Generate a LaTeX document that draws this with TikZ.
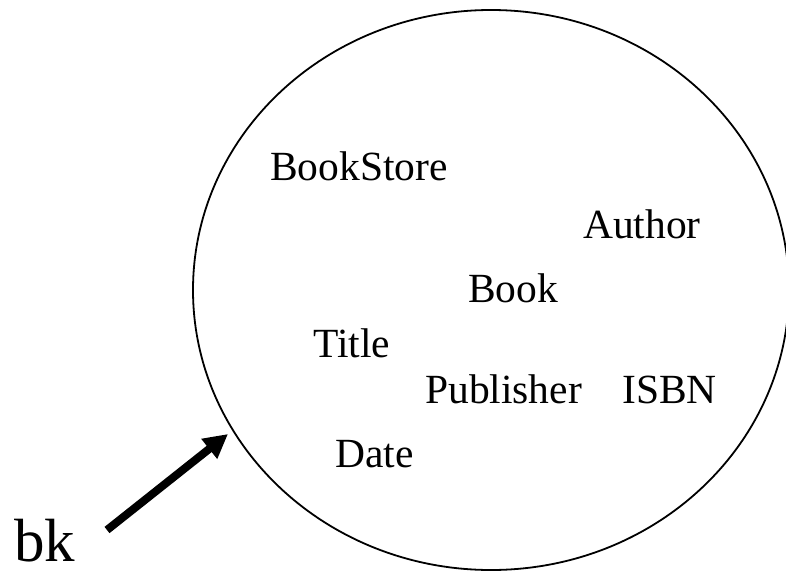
\documentclass[tikz,border=0pt]{standalone}
\usepackage{fontspec}
\setmainfont{Liberation Serif}
\usetikzlibrary{arrows.meta,shapes.geometric}
\tikzset{
  lbl/.style={anchor=base west,inner sep=0pt,font=\fontsize{41.5}{50}\selectfont},
  biglbl/.style={anchor=base west,inner sep=0pt,font=\fontsize{61}{70}\selectfont},
  setshape/.style={draw,ellipse,line width=1.8pt,inner sep=0pt,minimum width=596pt,minimum height=560pt},
  pointer/.style={line width=8pt,-{Triangle[length=24pt,width=24pt]}}
}
\begin{document}
\begin{tikzpicture}[x=1pt,y=-1pt]
\useasboundingbox (0,0) rectangle (786,570);
\begin{scope}
\clip (0,0) rectangle (786,570);
\node[setshape] (set) at (491,290) {};
\end{scope}
\node[lbl] (bookstore) at (270,180) {BookStore};
\node[lbl] (author) at (583,238) {Author};
\node[lbl] (book) at (468,302) {Book};
\node[lbl] (title) at (313,357) {Title};
\node[lbl] (publisher) at (425,403) {Publisher};
\node[lbl] (isbn) at (622,403) {ISBN};
\node[lbl] (date) at (335,467) {Date};
\node[biglbl] (bk) at (14,561) {bk};
\coordinate (tail) at (107,530);
\coordinate (tip) at (228,434);
\draw[pointer] (tail) -- (tip);
\end{tikzpicture}
\end{document}
